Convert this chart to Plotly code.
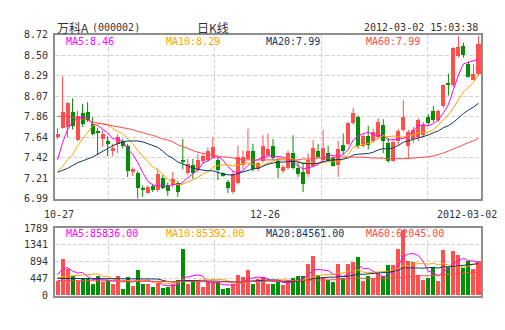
import plotly.graph_objects as go
import pandas as pd

# ---- daily K-line data, 2011-10-27 .. 2012-03-02 ----
opens = [7.65, 7.74, 7.75, 7.91, 7.61, 7.90, 7.91, 7.78, 7.70, 7.62,
         7.60, 7.49, 7.57, 7.60, 7.55, 7.28, 7.26, 7.10, 7.05, 7.13,
         7.08, 7.21, 7.14, 7.14, 7.16, 7.40, 7.26, 7.35, 7.29, 7.39,
         7.40, 7.43, 7.40, 7.26, 7.17, 7.06, 7.16, 7.35, 7.41, 7.50,
         7.30, 7.39, 7.45, 7.55, 7.39, 7.28, 7.32, 7.47, 7.32, 7.27,
         7.25, 7.34, 7.50, 7.40, 7.47, 7.42, 7.35, 7.56, 7.57, 7.79,
         7.85, 7.55, 7.65, 7.60, 7.64, 7.77, 7.58, 7.39, 7.60, 7.72,
         7.55, 7.62, 7.64, 7.66, 7.85, 7.92, 7.82, 7.97, 8.21, 8.19,
         8.50, 8.60, 8.41, 8.25, 8.31]
highs = [7.74, 8.28, 8.01, 8.05, 7.92, 7.99, 8.01, 7.85, 7.74, 7.71,
         7.65, 7.57, 7.67, 7.62, 7.57, 7.32, 7.28, 7.13, 7.13, 7.15,
         7.31, 7.24, 7.16, 7.27, 7.18, 7.62, 7.41, 7.41, 7.46, 7.47,
         7.53, 7.64, 7.43, 7.27, 7.19, 7.28, 7.55, 7.50, 7.73, 7.57,
         7.38, 7.66, 7.68, 7.62, 7.42, 7.35, 7.50, 7.66, 7.37, 7.37,
         7.47, 7.61, 7.57, 7.72, 7.55, 7.44, 7.60, 7.68, 7.80, 7.95,
         7.87, 7.67, 7.76, 7.73, 7.84, 7.83, 7.63, 7.62, 7.73, 8.03,
         7.72, 7.75, 7.84, 7.80, 7.88, 7.97, 7.93, 8.20, 8.31, 8.59,
         8.71, 8.64, 8.44, 8.41, 8.71]
lows = [7.62, 7.73, 7.64, 7.72, 7.60, 7.75, 7.80, 7.66, 7.45, 7.54,
        7.44, 7.44, 7.47, 7.52, 7.22, 7.23, 6.99, 7.01, 7.04, 7.06,
        7.06, 7.09, 7.02, 7.11, 7.01, 7.30, 7.24, 7.20, 7.27, 7.36,
        7.38, 7.41, 7.19, 7.22, 7.05, 7.04, 7.14, 7.30, 7.40, 7.28,
        7.28, 7.37, 7.42, 7.40, 7.21, 7.26, 7.30, 7.30, 7.22, 7.06,
        7.22, 7.32, 7.42, 7.38, 7.38, 7.33, 7.22, 7.46, 7.55, 7.77,
        7.52, 7.53, 7.51, 7.58, 7.62, 7.47, 7.37, 7.38, 7.55, 7.70,
        7.41, 7.58, 7.60, 7.64, 7.77, 7.80, 7.80, 7.95, 8.08, 8.17,
        8.48, 8.48, 8.27, 8.24, 8.29]
closes = [7.67, 7.91, 8.00, 7.76, 7.86, 7.78, 7.82, 7.67, 7.69, 7.67,
          7.57, 7.53, 7.64, 7.55, 7.28, 7.30, 7.10, 7.09, 7.11, 7.08,
          7.25, 7.10, 7.07, 7.20, 7.06, 7.38, 7.36, 7.26, 7.40, 7.44,
          7.49, 7.54, 7.29, 7.23, 7.10, 7.25, 7.43, 7.43, 7.50, 7.30,
          7.37, 7.55, 7.52, 7.42, 7.32, 7.33, 7.47, 7.32, 7.25, 7.15,
          7.40, 7.53, 7.43, 7.53, 7.39, 7.34, 7.52, 7.50, 7.79, 7.90,
          7.55, 7.65, 7.56, 7.70, 7.80, 7.60, 7.39, 7.59, 7.71, 7.85,
          7.70, 7.72, 7.82, 7.77, 7.79, 7.82, 7.92, 8.19, 8.20, 8.58,
          8.59, 8.51, 8.28, 8.31, 8.63]
# volume in hundreds of lots
volumes = [394, 980, 712, 528, 376, 465, 441, 309, 528, 368,
           407, 315, 528, 179, 487, 259, 685, 309, 315, 226,
           336, 192, 219, 309, 416, 1229, 309, 398, 398, 237,
           344, 344, 344, 174, 210, 309, 550, 487, 667, 309,
           434, 487, 309, 309, 372, 281, 416, 461, 523, 523,
           823, 1047, 550, 494, 398, 344, 845, 452, 845, 881,
           1015, 372, 505, 434, 595, 505, 819, 819, 1239, 1730,
           903, 882, 546, 410, 462, 746, 389, 1218, 756, 1176,
           1071, 725, 914, 693, 914]

# moving-average values at the start of the window, before a full
# period of in-window closes is available
ma5_head = [7.40, 7.58, 7.72, 7.80]
ma10_head = [7.28, 7.33, 7.40, 7.45, 7.55, 7.62, 7.70, 7.76, 7.78]
ma20_head = [7.27, 7.29, 7.31, 7.34, 7.37, 7.39, 7.41, 7.43, 7.46, 7.49,
             7.52, 7.55, 7.57, 7.59, 7.60, 7.60, 7.60, 7.59, 7.57]
ma60_head = [7.86, 7.86, 7.86, 7.85, 7.84, 7.83, 7.82, 7.80, 7.79, 7.78,
             7.77, 7.76, 7.75, 7.74, 7.73, 7.72, 7.70, 7.69, 7.67, 7.66,
             7.64, 7.62, 7.61, 7.59, 7.56, 7.54, 7.52, 7.50, 7.48, 7.47,
             7.46, 7.45, 7.44, 7.43, 7.43, 7.42, 7.41, 7.40, 7.40, 7.40,
             7.40, 7.40, 7.40, 7.40, 7.40, 7.40, 7.40, 7.40, 7.40, 7.41,
             7.41, 7.41, 7.42, 7.42, 7.42, 7.42, 7.43, 7.43, 7.43]
vma5_head = [560, 690, 745, 650]
vma10_head = [470, 500, 520, 525, 525, 540, 560, 575, 575]
vma20_head = [455, 455, 455, 455, 455, 455, 455, 455, 458, 460,
              460, 460, 460, 455, 450, 445, 445, 440, 440]
vma60_head = [400, 400, 400, 398, 396, 395, 394, 392, 390, 388,
              386, 385, 384, 383, 382, 380, 378, 376, 375, 373,
              372, 370, 368, 366, 365, 370, 370, 370, 370, 368,
              366, 365, 364, 362, 360, 360, 362, 364, 366, 368,
              370, 372, 374, 376, 378, 380, 382, 384, 386, 388,
              392, 396, 400, 404, 408, 414, 422, 432, 444]

price_ticks = [6.99, 7.21, 7.42, 7.64, 7.86, 8.07, 8.29, 8.50, 8.72]
volume_ticks = ["0", "447", "894", "1341", "1789"]
date_labels = ["10-27", "12-26", "2012-03-02"]
title_name = "万科A"
title_code = "(000002)"
title_kind = "日K线"
timestamp = "2012-03-02 15:03:38"
price_legend = ["MA5:8.46", "MA10:8.29", "MA20:7.99", "MA60:7.99"]
volume_legend = ["MA5:85836.00", "MA10:85392.00", "MA20:84561.00", "MA60:62045.00"]

# ---- styling ----
W, H = 505, 330
RED = "#ff4f4f"
GREEN = "#008f00"
MA_COLORS = ["#ff00ff", "#ffa300", "#0c3868", "#ff4a4a"]
TEXT = "#333333"
GRID = "#d3d3d3"
FRAME = "#8e8e8e"
MONO = "DejaVu Sans Mono"
CJK = "Noto Sans CJK SC"

# plot boxes in pixels
X0, X1 = 55, 481
P_TOP, P_BOT = 30, 200
V_TOP, V_BOT = 230.5, 300.5

n = len(closes)
idx = list(range(n))


def moving(head, values, period):
    rolled = pd.Series(values, dtype=float).rolling(period).mean()
    return list(head) + list(rolled.iloc[period - 1:])


mas = [moving(ma5_head, closes, 5), moving(ma10_head, closes, 10),
       moving(ma20_head, closes, 20), moving(ma60_head, closes, 60)]
vmas = [moving(vma5_head, volumes, 5), moving(vma10_head, volumes, 10),
        moving(vma20_head, volumes, 20), moving(vma60_head, volumes, 60)]

up = [c >= o for o, c in zip(opens, closes)]

fig = go.Figure()

# wicks
for flag, col in ((True, RED), (False, GREEN)):
    wx, wy = [], []
    for i in idx:
        if up[i] == flag:
            wx += [i, i, None]
            wy += [lows[i], highs[i], None]
    fig.add_trace(go.Scatter(x=wx, y=wy, mode="lines", line=dict(color=col, width=1),
                             hoverinfo="skip", xaxis="x", yaxis="y"))

# bodies
for flag, col in ((True, RED), (False, GREEN)):
    bx = [i for i in idx if up[i] == flag]
    base = [min(opens[i], closes[i]) for i in bx]
    hgt = [max(abs(closes[i] - opens[i]), 0.009) for i in bx]
    fig.add_trace(go.Bar(x=bx, y=hgt, base=base, width=0.8, marker=dict(color=col, line=dict(width=0)),
                         xaxis="x", yaxis="y"))

for vals, col in zip(mas, MA_COLORS):
    fig.add_trace(go.Scatter(x=idx, y=vals, mode="lines", line=dict(color=col, width=1),
                             xaxis="x", yaxis="y"))

# volume bars
fig.add_trace(go.Bar(x=idx, y=volumes, width=0.8,
                     marker=dict(color=[RED if u else GREEN for u in up], line=dict(width=0)),
                     xaxis="x2", yaxis="y2"))
for vals, col in zip(vmas, MA_COLORS):
    fig.add_trace(go.Scatter(x=idx, y=vals, mode="lines", line=dict(color=col, width=1),
                             xaxis="x2", yaxis="y2"))


def px_x(p):
    return p / W


def px_y(p):
    return 1 - p / H


grid_x = [-0.5 + n * k / 8 for k in (1, 3, 5, 7)]
vmax = 1789
vol_tickvals = [vmax * k / 4 for k in range(5)]
price_tickvals = [6.99 + (8.72 - 6.99) * k / 8 for k in range(9)]

common_x = dict(range=[-0.5, n - 0.5], domain=[px_x(X0), px_x(X1)], tickvals=grid_x,
                showticklabels=False, ticks="", showgrid=True, gridcolor=GRID,
                griddash="4px,2px", gridwidth=1, zeroline=False, showline=True,
                mirror=True, linecolor=FRAME, linewidth=2, fixedrange=True)
common_y = dict(ticks="", showgrid=True, gridcolor=GRID, griddash="4px,2px", gridwidth=1,
                zeroline=False, showline=True, mirror=True, linecolor=FRAME, linewidth=2,
                tickfont=dict(family=MONO, size=10, color=TEXT), ticklabelstandoff=3,
                fixedrange=True)

fig.update_layout(
    width=W, height=H, margin=dict(l=0, r=0, t=0, b=0),
    paper_bgcolor="white", plot_bgcolor="white", showlegend=False,
    barmode="overlay", bargap=0,
    xaxis=dict(anchor="y", **common_x),
    xaxis2=dict(anchor="y2", **common_x),
    yaxis=dict(domain=[px_y(P_BOT), px_y(P_TOP)], range=[6.99, 8.72], anchor="x",
               tickvals=price_tickvals, ticktext=[f"{v:.2f}" for v in price_ticks], **common_y),
    yaxis2=dict(domain=[px_y(V_BOT), px_y(V_TOP)], range=[0, vmax], anchor="x2",
                tickvals=vol_tickvals, ticktext=volume_ticks, **common_y),
)


def note(text, x, y, color=TEXT, family=MONO, size=10, xanchor="left"):
    fig.add_annotation(text=text, x=px_x(x), y=px_y(y), xref="paper", yref="paper",
                       xanchor=xanchor, yanchor="middle", showarrow=False,
                       font=dict(family=family, size=size, color=color))


# header
note(title_name, 55, 22, family=CJK, size=12)
note(title_code, 90, 22)
note(title_kind, 213, 22, family=CJK, size=12, xanchor="center")
note(timestamp, 480, 22, xanchor="right")

# moving-average legends
for k, (txt, col) in enumerate(zip(price_legend, MA_COLORS)):
    note(txt, 64 + 100 * k, 37, color=col)
for k, (txt, col) in enumerate(zip(volume_legend, MA_COLORS)):
    note(txt, 64 + 100 * k, 236.5, color=col)

# date labels under the price chart
note(date_labels[0], 59, 216, xanchor="center")
note(date_labels[1], 265, 216, xanchor="center")
note(date_labels[2], 499, 216, xanchor="right")

fig.write_html("out.html")
